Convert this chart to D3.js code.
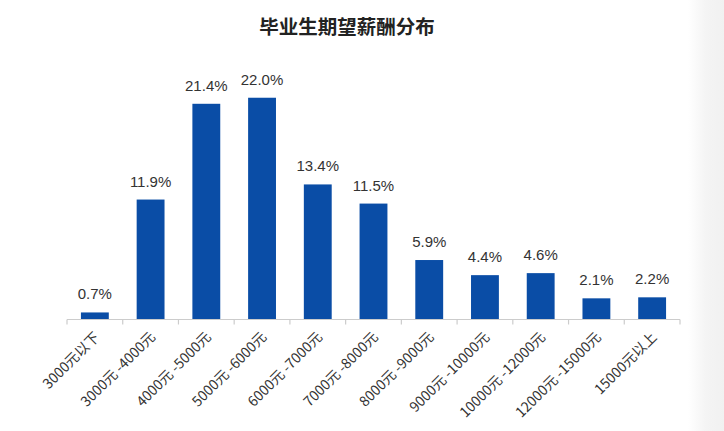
<!DOCTYPE html>
<html><head><meta charset="utf-8">
<script src="https://cdn.jsdelivr.net/npm/d3@7/dist/d3.min.js"></script>
<style>
html,body{margin:0;padding:0;background:#fff;}
svg{display:block;font-family:"Noto Sans CJK SC","Noto Sans",sans-serif;}
</style></head>
<body>
<svg id="chart" width="724" height="431"></svg>
<script>
const title = "毕业生期望薪酬分布";
const categories = ["3000元以下","3000元 -4000元","4000元 -5000元","5000元 -6000元","6000元 -7000元","7000元 -8000元","8000元 -9000元","9000元 -10000元","10000元 -12000元","12000元 -15000元","15000元以上"];
const values = [0.7, 11.9, 21.4, 22.0, 13.4, 11.5, 5.9, 4.4, 4.6, 2.1, 2.2];

const svg = d3.select("#chart");
const W = 724, H = 431;

// right edge soft gray fade
const defs = svg.append("defs");
const g1 = defs.append("linearGradient").attr("id","fade").attr("x1","0").attr("x2","1");
g1.append("stop").attr("offset","0").attr("stop-color","#ffffff");
g1.append("stop").attr("offset","0.5").attr("stop-color","#f4f4f4");
g1.append("stop").attr("offset","1").attr("stop-color","#f1f1f1");
svg.append("rect").attr("x",688).attr("y",0).attr("width",36).attr("height",H).attr("fill","url(#fade)");

const x = d3.scaleBand().domain(categories).range([67, 680]).paddingInner(0.5).paddingOuter(0.25);
const y = d3.scaleLinear().domain([0, 25]).range([319.5, 67.5]);

svg.append("text").attr("x", 347).attr("y", 34).attr("text-anchor","middle")
  .attr("font-size", 19.5).attr("font-weight","bold").attr("fill","#222").text(title);

// bars
svg.append("g").selectAll("rect").data(values).join("rect")
  .attr("x",(d,i)=>x(categories[i])).attr("width",x.bandwidth())
  .attr("y",d=>y(d)).attr("height",d=>y(0)-y(d)).attr("fill","#0a4da6");

// value labels
svg.append("g").selectAll("text").data(values).join("text")
  .attr("x",(d,i)=>x(categories[i])+x.bandwidth()/2).attr("y",d=>y(d)-13)
  .attr("text-anchor","middle").attr("font-size",15).attr("fill","#333")
  .attr("font-family","'Liberation Sans',Arial,sans-serif")
  .text(d=>d.toFixed(1)+"%");

// axis
const ax = svg.append("g");
const step = x.step();
const x0 = x.range()[0];
ax.append("line").attr("x1",x0).attr("x2",x.range()[1]).attr("y1",y(0)).attr("y2",y(0))
  .attr("stroke","#cccccc").attr("stroke-width",1.2);
ax.selectAll("line.tick").data(d3.range(categories.length+1)).join("line").attr("class","tick")
  .attr("x1",i=>x0+i*step).attr("x2",i=>x0+i*step).attr("y1",y(0)).attr("y2",y(0)+5)
  .attr("stroke","#cccccc").attr("stroke-width",1.2);

// x labels
ax.selectAll("text").data(categories).join("text")
  .attr("transform",d=>`translate(${x(d)+x.bandwidth()/2+2},${y(0)+15}) rotate(-45)`)
  .attr("text-anchor","end").attr("dy","0.35em").attr("font-size",14).attr("fill","#333")
  .text(d=>d);
</script>
</body></html>
